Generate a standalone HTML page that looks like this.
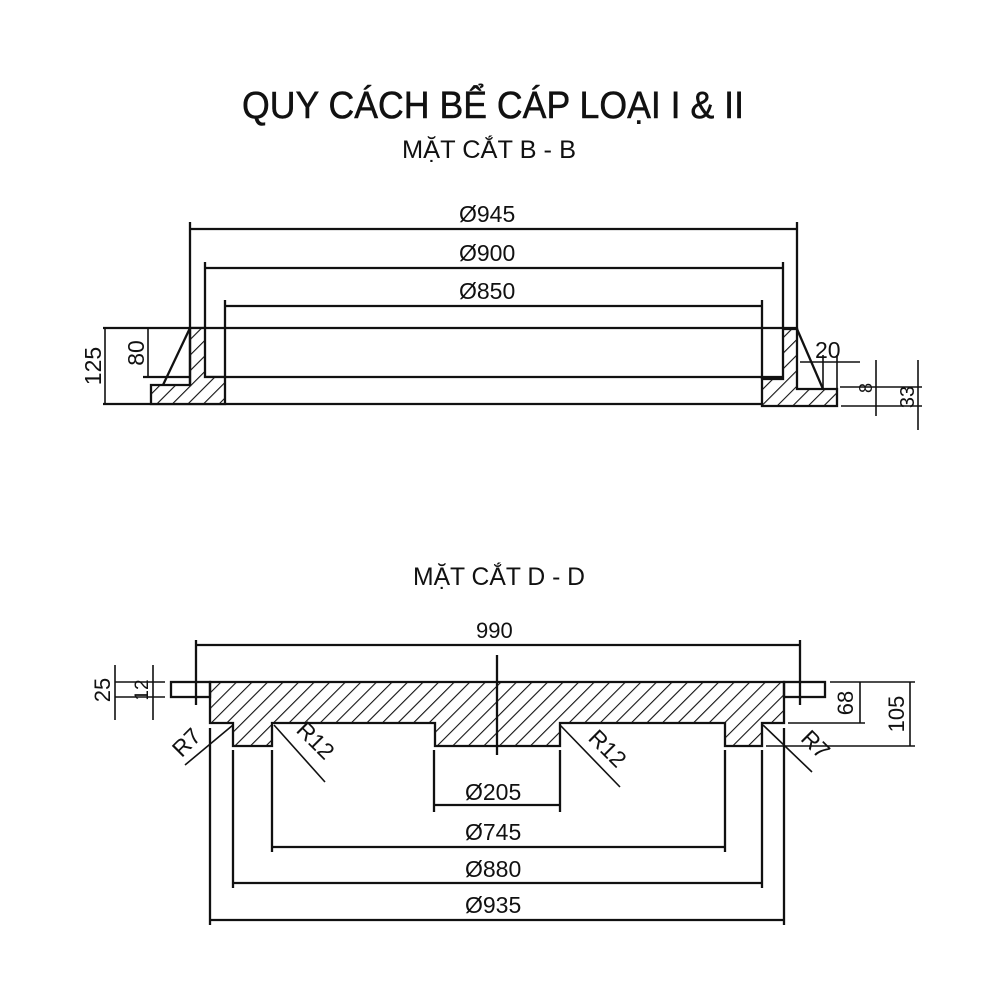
<!DOCTYPE html>
<html><head><meta charset="utf-8"><style>
html,body{margin:0;padding:0;background:#fff;}
svg{display:block;}
text{font-family:"Liberation Sans",Arial,sans-serif;fill:#111;}
</style></head><body>
<svg width="1000" height="1000" viewBox="0 0 1000 1000" xmlns="http://www.w3.org/2000/svg">
<defs>
<pattern id="h" patternUnits="userSpaceOnUse" width="11" height="11" patternTransform="rotate(45)">
<rect width="11" height="11" fill="#fff"/><line x1="0" y1="0" x2="0" y2="11" stroke="#111" stroke-width="2.2"/>
</pattern>
</defs>
<text x="242" y="118" font-size="38" textLength="502" lengthAdjust="spacingAndGlyphs" stroke="#111" stroke-width="0.5">QUY CÁCH BỂ CÁP LOẠI I &amp; II</text>
<text x="402" y="158" font-size="25" textLength="174" lengthAdjust="spacingAndGlyphs">MẶT CẮT B - B</text>

<g stroke="#111" stroke-width="2.3" fill="none">
<line x1="190" y1="229" x2="797" y2="229"/>
<line x1="205" y1="268" x2="783" y2="268"/>
<line x1="225" y1="306" x2="762" y2="306"/>
<line x1="190" y1="222" x2="190" y2="328"/>
<line x1="797" y1="222" x2="797" y2="329"/>
<line x1="205" y1="262" x2="205" y2="328"/>
<line x1="783" y1="262" x2="783" y2="329"/>
<line x1="225" y1="300" x2="225" y2="377"/>
<line x1="762" y1="300" x2="762" y2="379"/>
<line x1="103" y1="328" x2="797" y2="328"/>
<line x1="143" y1="377" x2="783" y2="377"/>
<line x1="103" y1="404" x2="837" y2="404"/>
<path d="M190,328 L205,328 L205,377 L225,377 L225,404 L151,404 L151,385 L190,385 Z" fill="url(#h)"/>
<line x1="190" y1="328" x2="163" y2="385"/>
<line x1="190" y1="328" x2="190" y2="385"/>
<path d="M783,329 L797,329 L797,389 L837,389 L837,406 L762,406 L762,379 L783,379 Z" fill="url(#h)"/>
<line x1="797" y1="329" x2="823" y2="389"/>
<line x1="105" y1="328" x2="105" y2="404" stroke-width="1.6"/>
<line x1="148" y1="328" x2="148" y2="377" stroke-width="1.6"/>
<line x1="800" y1="362" x2="860" y2="362" stroke-width="1.6"/>
<line x1="823" y1="355" x2="823" y2="389" stroke-width="1.6"/>
<line x1="837" y1="355" x2="837" y2="389" stroke-width="1.6"/>
<line x1="840" y1="387" x2="922" y2="387" stroke-width="1.6"/>
<line x1="841" y1="406" x2="922" y2="406" stroke-width="1.6"/>
<line x1="876" y1="360" x2="876" y2="416" stroke-width="1.6"/>
<line x1="918" y1="360" x2="918" y2="430" stroke-width="1.6"/>
</g>
<text x="459" y="222" font-size="23">Ø945</text>
<text x="459" y="261" font-size="23">Ø900</text>
<text x="459" y="299" font-size="23">Ø850</text>
<text transform="translate(101,366) rotate(-90)" font-size="23" text-anchor="middle">125</text>
<text transform="translate(144,353) rotate(-90)" font-size="23" text-anchor="middle">80</text>
<text x="815" y="358" font-size="23">20</text>
<text transform="translate(872,388) rotate(-90)" font-size="18" text-anchor="middle">8</text>
<text transform="translate(914,397) rotate(-90)" font-size="20" text-anchor="middle">33</text>

<text x="413" y="585" font-size="25" textLength="172" lengthAdjust="spacingAndGlyphs">MẶT CẮT D - D</text>
<text x="476" y="638" font-size="22">990</text>

<g stroke="#111" stroke-width="2.3" fill="none">
<line x1="196" y1="645" x2="800" y2="645"/>
<line x1="196" y1="640" x2="196" y2="705"/>
<line x1="800" y1="640" x2="800" y2="705"/>
<path d="M210,682 L784,682 L784,723 L762,723 L762,746 L725,746 L725,723 L560,723 L560,746 L435,746 L435,723 L272,723 L272,746 L233,746 L233,723 L210,723 Z" fill="url(#h)"/>
<rect x="171" y="682" width="39" height="15"/>
<rect x="784" y="682" width="41" height="15"/>
<line x1="497" y1="655" x2="497" y2="755"/>
<line x1="434" y1="805" x2="560" y2="805"/>
<line x1="272" y1="847" x2="725" y2="847"/>
<line x1="233" y1="883" x2="762" y2="883"/>
<line x1="210" y1="920" x2="784" y2="920"/>
<line x1="434" y1="750" x2="434" y2="812"/>
<line x1="560" y1="750" x2="560" y2="812"/>
<line x1="272" y1="750" x2="272" y2="852"/>
<line x1="725" y1="750" x2="725" y2="852"/>
<line x1="233" y1="750" x2="233" y2="888"/>
<line x1="762" y1="750" x2="762" y2="888"/>
<line x1="210" y1="728" x2="210" y2="925"/>
<line x1="784" y1="728" x2="784" y2="925"/>
<line x1="233" y1="725" x2="185" y2="765" stroke-width="1.6"/>
<line x1="274" y1="725" x2="325" y2="782" stroke-width="1.6"/>
<line x1="560" y1="725" x2="620" y2="787" stroke-width="1.6"/>
<line x1="763" y1="725" x2="812" y2="772" stroke-width="1.6"/>
<line x1="830" y1="682" x2="915" y2="682" stroke-width="1.6"/>
<line x1="788" y1="723" x2="865" y2="723" stroke-width="1.6"/>
<line x1="766" y1="746" x2="915" y2="746" stroke-width="1.6"/>
<line x1="860" y1="682" x2="860" y2="723" stroke-width="1.6"/>
<line x1="910" y1="682" x2="910" y2="746" stroke-width="1.6"/>
<line x1="115" y1="665" x2="115" y2="720" stroke-width="1.6"/>
<line x1="153" y1="665" x2="153" y2="720" stroke-width="1.6"/>
<line x1="115" y1="682" x2="165" y2="682" stroke-width="1.6"/>
<line x1="115" y1="697" x2="165" y2="697" stroke-width="1.6"/>
</g>
<text x="465" y="800" font-size="23">Ø205</text>
<text x="465" y="840" font-size="23">Ø745</text>
<text x="465" y="877" font-size="23">Ø880</text>
<text x="465" y="913" font-size="23">Ø935</text>
<text transform="translate(192,748) rotate(-45)" font-size="23" text-anchor="middle">R7</text>
<text transform="translate(310,746) rotate(45)" font-size="23" text-anchor="middle">R12</text>
<text transform="translate(602,754) rotate(45)" font-size="23" text-anchor="middle">R12</text>
<text transform="translate(810,750) rotate(45)" font-size="23" text-anchor="middle">R7</text>
<text transform="translate(853,703) rotate(-90)" font-size="22" text-anchor="middle">68</text>
<text transform="translate(904,714) rotate(-90)" font-size="22" text-anchor="middle">105</text>
<text transform="translate(110,690) rotate(-90)" font-size="22" text-anchor="middle">25</text>
<text transform="translate(148,690) rotate(-90)" font-size="19" text-anchor="middle">12</text>
</svg>
</body></html>
